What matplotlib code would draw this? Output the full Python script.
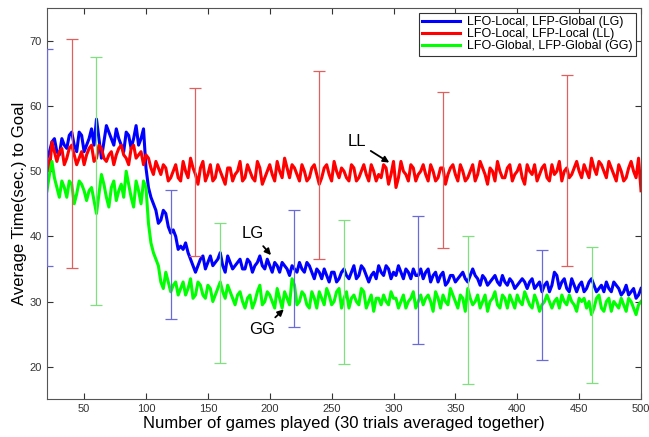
import numpy as np
import matplotlib.pyplot as plt

plt.rcParams['font.family'] = ['Liberation Sans', 'DejaVu Sans']

# readings at games 20, 24, ..., 500
games = list(range(20, 501, 4))
lg = [52, 54.5, 53, 55, 53.5, 56, 53, 55.5, 54, 56.5, 58, 52, 57, 55, 56.5, 54, 56, 53.5, 57, 55,
      50.5, 46, 44, 42.5, 43.5, 40.5, 40, 38.5, 39, 36.5, 34.5, 36.5, 35, 37, 36, 37.5, 34.5, 36, 35.5, 36.5,
      35, 36, 35.5, 37, 35, 35.5, 36, 34.5, 35.5, 34, 35, 36, 34.5, 35.5, 33.5, 34.5, 35, 33, 34.5, 33.5,
      35, 33.5, 35.5, 34, 35, 33, 34.5, 35.5, 34, 35, 34.5, 35.5, 33.5, 34.5, 35, 34, 33.5, 35, 34, 33,
      34.5, 33, 34, 33.5, 34.5, 33, 35, 33.5, 34, 32.5, 33.5, 33, 34, 32.5, 33, 32.5, 33.5, 32, 33.5, 32.5,
      31.5, 33, 32.5, 34, 33, 32, 33.5, 31.5, 33, 32, 33.5, 31.5, 32.5, 33, 31.5, 32.5, 31, 32.5, 31.5, 30.5,
      32]
ll = [52, 54.5, 51.5, 53.5, 52, 54, 51, 53, 52.5, 54, 52, 53.5, 51.5, 53, 52.5, 54, 52, 53.5, 52, 53,
      52.5, 50.5, 51.5, 49.5, 50.5, 49, 51, 48.5, 50, 52, 49.5, 50.5, 48.5, 51, 49, 50, 48, 50.5, 49.5, 51.5,
      49, 50, 48.5, 50.5, 49, 51, 48.5, 50, 52, 49, 50.5, 48.5, 50, 49, 51, 48, 50.5, 49.5, 51.5, 49,
      50, 48.5, 50.5, 49, 51, 48.5, 50, 49.5, 51, 48, 51.5, 49, 50, 48.5, 50.5, 49.5, 51, 48.5, 50, 49,
      50.5, 49.5, 51, 48.5, 50, 49, 51, 49.5, 50.5, 48, 50, 51.5, 49, 50.5, 48.5, 50, 49, 51, 49.5, 48.5,
      50.5, 49, 51, 50, 48.5, 50.5, 49.5, 51.5, 49, 50, 52, 49.5, 51, 49, 50.5, 48.5, 50, 49, 51.5, 49,
      47]
gg = [47, 51.5, 47.5, 48.5, 46, 48, 46.5, 48, 45.5, 47.5, 43.5, 49.5, 46, 47.5, 45.5, 48, 50, 46, 48.5, 45,
      47.5, 39, 36.5, 33, 34.5, 31.5, 33, 32, 31, 33.5, 31, 32.5, 30.5, 32, 31, 33, 30.5, 31.5, 29.5, 31.5,
      29, 31, 30, 32.5, 30, 31, 29, 30.5, 31.5, 29.5, 32.5, 30, 31, 29, 30.5, 31.5, 29.5, 31, 30, 32,
      30.5, 29, 31, 29.5, 31.5, 30, 28.5, 30.5, 31, 29.5, 30.5, 29, 31, 30, 31.5, 30, 29.5, 31, 28.5, 30.5,
      31, 29.5, 31, 29, 30.5, 32, 29.5, 31, 30, 28.5, 30.5, 29.5, 31, 29, 30, 31, 29.5, 30.5, 29, 30,
      29.5, 31, 29, 30.5, 31, 29.5, 30, 28.5, 30, 29, 28, 30.5, 29, 30, 28.5, 29.5, 30.5, 28.5, 30, 28,
      30]

# readings in between, at games 22, 26, ..., 498
games_mid = list(range(22, 500, 4))
lg_mid = [53, 55, 52.5, 54, 55.5, 54, 56, 53, 55, 54, 55, 54.5, 56, 54, 55, 53, 55.5, 55, 54, 56.5,
          47.5, 45, 42, 44, 41.5, 41, 38, 38, 37.5, 35.5, 35.5, 37, 36, 35.5, 36.5, 35.5, 37, 35, 36, 35,
          36.5, 34.5, 36, 35.5, 36.5, 34.5, 35.5, 36, 35, 35.5, 34.5, 35, 36, 34.5, 35, 33.5, 34, 34.5, 33, 34.5,
          34, 34.5, 33.5, 35.5, 34, 34, 33.5, 34.5, 35.5, 33.5, 34, 34.5, 35, 33.5, 34, 35, 34.5, 33, 34.5, 34,
          32.5, 34, 33, 34, 33.5, 34, 34, 32.5, 33.5, 33, 34, 32.5, 33, 33.5, 32, 33, 33, 33, 32, 33,
          32.5, 31.5, 34.5, 32, 33.5, 31.5, 32.5, 32.5, 31.5, 33, 32.5, 32, 31.5, 32, 33, 32, 31.5, 31, 32, 31]
ll_mid = [50, 53, 53, 51, 53.5, 52.5, 52, 51, 53.5, 51.5, 54, 52, 52.5, 51, 53.5, 52.5, 51, 54, 52.5, 51,
          52, 49.5, 50.5, 51, 48.5, 50, 49, 51.5, 49, 50.5, 48, 51.5, 49.5, 48.5, 51, 49, 50.5, 48.5, 50, 48.5,
          51, 49, 51.5, 48, 50, 49.5, 51.5, 49, 50.5, 51, 49.5, 51, 48.5, 50.5, 49.5, 49, 51, 48.5, 50, 50.5,
          49, 51, 48.5, 50, 49.5, 51, 48.5, 49, 50.5, 49.5, 47.5, 51.5, 49.5, 51, 48.5, 50, 49.5, 51, 48.5, 50.5,
          48, 50.5, 49.5, 51, 48.5, 50, 48.5, 51.5, 49.5, 50.5, 48.5, 50, 49, 51, 49.5, 51, 48, 50, 51, 49.5,
          51, 48.5, 49.5, 51.5, 50, 49, 50.5, 50, 51, 49, 50.5, 51.5, 50, 51.5, 49.5, 51, 48.5, 50.5, 50, 52]
gg_mid = [49.5, 49, 46, 47.5, 48.5, 45, 48.5, 47, 47, 45.5, 46.5, 48, 44.5, 48.5, 47, 46, 48, 44.5, 47, 48.5,
          42, 37.5, 35.5, 32, 33, 32.5, 31, 33, 32, 30.5, 33, 31, 32.5, 30, 32, 31.5, 32.5, 30.5, 31, 30,
          30.5, 29, 31.5, 29.5, 31.5, 30, 32, 29, 30.5, 33.5, 29.5, 31.5, 29.5, 31.5, 29, 30.5, 32, 29.5, 31.5, 29,
          31.5, 30.5, 30, 32, 29, 31, 30.5, 29.5, 30, 31.5, 30.5, 30, 29, 30.5, 29, 31, 30.5, 30, 31.5, 29,
          30, 32, 30, 31, 28.5, 30.5, 30, 29, 31, 30, 31.5, 29, 30.5, 31, 29, 30, 31.5, 29.5, 31, 28.5,
          30, 30, 30, 29, 30, 31, 29.5, 30.5, 30.5, 30, 29, 31, 28.5, 30.5, 30, 29, 29.5, 30.5, 29, 29.5]

# error bars: x position, lower, upper
lg_err_x = [20, 120, 220, 320, 420]
lg_err_lo = [35.5, 27.3, 26.1, 23.5, 21.1]
lg_err_hi = [68.8, 47.1, 44.1, 43.2, 37.9]
ll_err_x = [40, 140, 240, 340, 440]
ll_err_lo = [35.2, 37.0, 36.5, 38.2, 35.5]
ll_err_hi = [70.3, 62.8, 65.4, 62.2, 64.8]
gg_err_x = [60, 160, 260, 360, 460]
gg_err_lo = [29.5, 20.5, 20.4, 17.3, 17.5]
gg_err_hi = [67.5, 42.0, 42.5, 40.0, 38.3]

labels = ['LFO-Local, LFP-Global (LG)', 'LFO-Local, LFP-Local (LL)', 'LFO-Global, LFP-Global (GG)']


def merged(a, b):
    x = np.array(games + games_mid)
    y = np.array(a + b)
    order = np.argsort(x)
    return x[order], y[order]


fig = plt.figure(figsize=(6.49, 4.37), dpi=100)
ax = fig.add_axes([0.0724, 0.0863, 0.9153, 0.8947])

ax.plot(*merged(lg, lg_mid), color='#0000ff', lw=2.2, label=labels[0])
ax.plot(*merged(ll, ll_mid), color='#ff0000', lw=2.2, label=labels[1])
ax.plot(*merged(gg, gg_mid), color='#00ff00', lw=2.2, label=labels[2])


def draw_err(xs, lo, hi, color):
    lo = np.array(lo)
    hi = np.array(hi)
    mid = (lo + hi) / 2
    ax.errorbar(xs, mid, yerr=(hi - lo) / 2, fmt='none', ecolor=color,
                elinewidth=0.9, capsize=4.5, capthick=0.9, zorder=3)


draw_err(lg_err_x, lg_err_lo, lg_err_hi, '#6a6ad8')
draw_err(ll_err_x, ll_err_lo, ll_err_hi, '#e06060')
draw_err(gg_err_x, gg_err_lo, gg_err_hi, '#80e080')

arrow = dict(arrowstyle='-|>', color='black', lw=1.3, mutation_scale=9)
ax.annotate('LL', xy=(298.5, 51.1), xytext=(270, 54.5), fontsize=12, ha='center', va='center',
            arrowprops=arrow)
ax.annotate('LG', xy=(202.5, 36.8), xytext=(186, 40.4), fontsize=12, ha='center', va='center',
            arrowprops=arrow)
ax.annotate('GG', xy=(213, 29.1), xytext=(194, 25.7), fontsize=12, ha='center', va='center',
            arrowprops=arrow)

ax.set_xlim(20, 500)
ax.set_ylim(15, 75)
ax.set_xticks(range(50, 501, 50))
ax.set_yticks(range(20, 71, 10))
ax.tick_params(direction='in', top=True, right=True, labelsize=8, length=4, colors='#333333')
for s in ax.spines.values():
    s.set_color('#555555')
ax.set_xlabel('Number of games played (30 trials averaged together)', fontsize=12, labelpad=1)
ax.set_ylabel('Average Time(sec.) to Goal', fontsize=12, labelpad=2)

leg = ax.legend(loc='upper right', fontsize=9, handlelength=3.0, borderpad=0.25, labelspacing=0.0,
                fancybox=False, framealpha=1, borderaxespad=0.4, handletextpad=0.6)
leg.get_frame().set_edgecolor('#333333')
leg.get_frame().set_linewidth(0.8)

fig.savefig('out.png', dpi=100)
